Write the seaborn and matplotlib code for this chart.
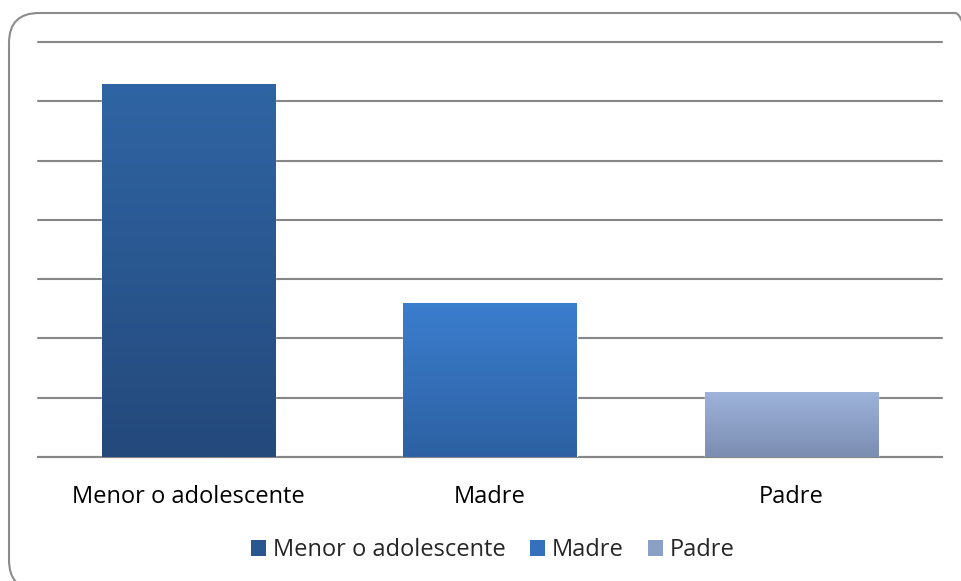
import numpy as np
import matplotlib
matplotlib.use("Agg")
import matplotlib.pyplot as plt
import seaborn as sns
from matplotlib.patches import FancyBboxPatch, Patch
from matplotlib.colors import LinearSegmentedColormap

categories = ["Menor o adolescente", "Madre", "Padre"]
values = [63, 26, 11]
top_colors = ["#2F65A4", "#3B7ECE", "#9EB4DB"]
bottom_colors = ["#24497B", "#2D61A3", "#7B8DB1"]
y_ticks = [0, 10, 20, 30, 40, 50, 60, 70]

sns.set_theme(style="white")
plt.rcParams["font.family"] = ["Open Sans", "DejaVu Sans"]

fig = plt.figure(figsize=(9.61, 5.81), dpi=100)
ax = fig.add_axes([38 / 961, 124 / 581, 904 / 961, 415 / 581])

# rounded outer frame (runs past the right and bottom edge like the original)
frame = FancyBboxPatch((0.09, -0.09), 9.76, 5.77,
                       boxstyle="round,pad=0,rounding_size=0.3",
                       transform=fig.dpi_scale_trans, facecolor="none",
                       edgecolor="#8C8C8C", linewidth=1.5)
fig.patches.append(frame)

sns.barplot(x=categories, y=values, hue=categories, palette=top_colors,
            width=0.575, ax=ax, legend=False, zorder=3)

# vertical gradient on each bar
for patch, c_top, c_bot in zip(ax.patches, top_colors, bottom_colors):
    x0, y0 = patch.get_x(), patch.get_y()
    w, h = patch.get_width(), patch.get_height()
    cmap = LinearSegmentedColormap.from_list("g", [c_bot, c_top])
    grad = np.linspace(0, 1, 256).reshape(-1, 1)
    im = ax.imshow(grad, cmap=cmap, origin="lower", aspect="auto",
                   extent=[x0, x0 + w, y0, y0 + h], zorder=3.5)
    im.set_clip_path(patch)

ax.set_xlim(-0.5, 2.5)
ax.set_ylim(0, 70)
ax.set_yticks(y_ticks)
ax.set_yticklabels([])
ax.yaxis.grid(True, color="#868686", linewidth=1.5)
for line in ax.get_ygridlines():
    line.set_clip_on(False)
ax.set_axisbelow(True)
for s in ["top", "right", "left"]:
    ax.spines[s].set_visible(False)
ax.spines["bottom"].set_color("#868686")
ax.spines["bottom"].set_linewidth(1.5)
ax.tick_params(axis="x", length=0, pad=20, labelsize=17, labelcolor="#000000")
ax.tick_params(axis="y", length=0)
ax.set_xlabel("")
ax.set_ylabel("")

handles = [Patch(facecolor=c, edgecolor="none") for c in
           ["#2A5790", "#3470BB", "#8CA0C6"]]
fig.legend(handles, categories, loc="center", bbox_to_anchor=(0.513, 0.053),
           ncol=3, frameon=False, fontsize=17, handlelength=0.65,
           handleheight=0.65, handletextpad=0.3, columnspacing=1.0)

fig.savefig("out.png", dpi=100)
